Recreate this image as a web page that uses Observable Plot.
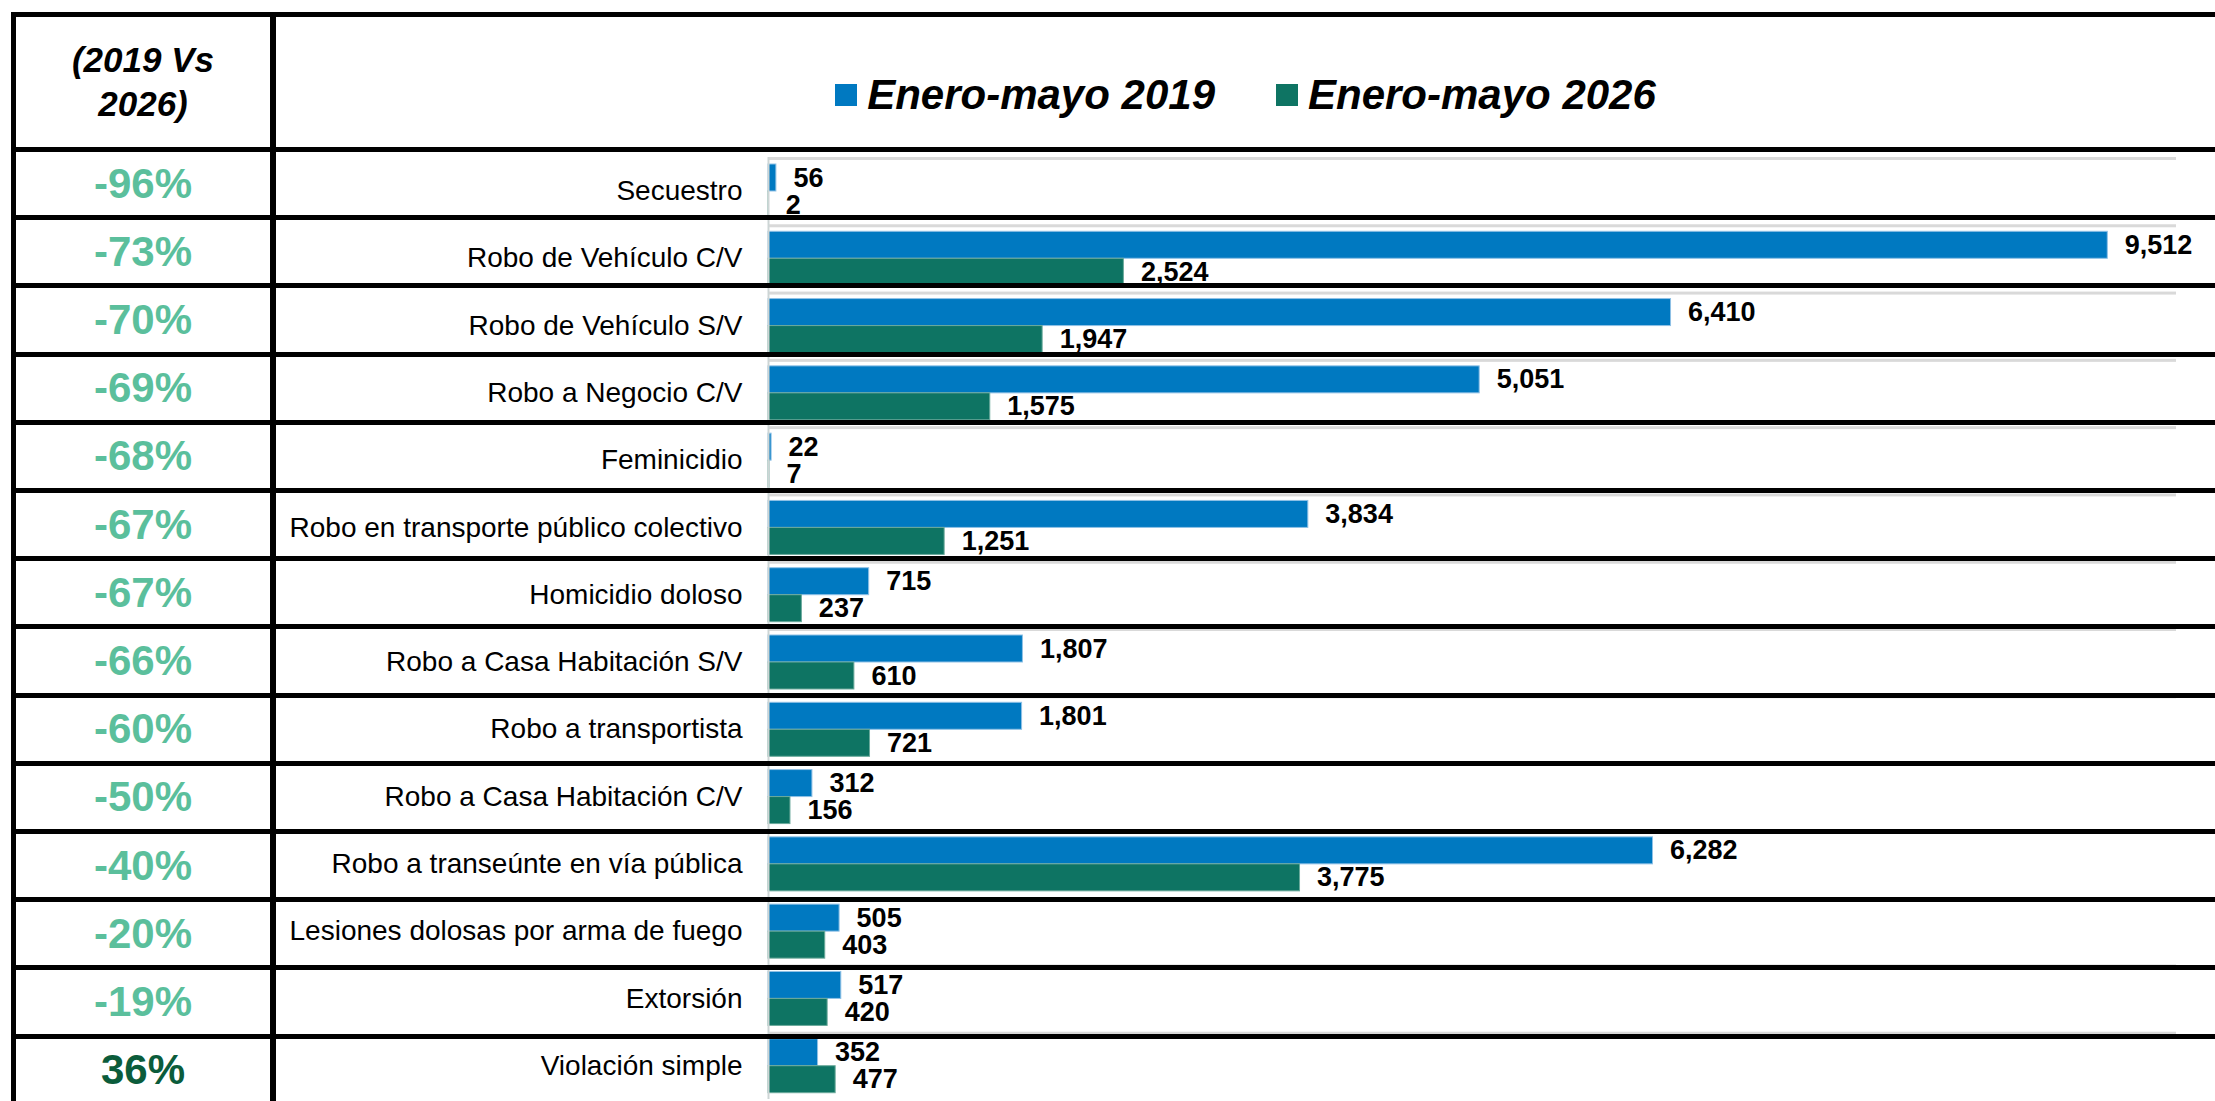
<!DOCTYPE html>
<html>
<head>
<meta charset="utf-8">
<script src="https://cdn.jsdelivr.net/npm/d3@7"></script>
<script src="https://cdn.jsdelivr.net/npm/@observablehq/plot@0.6"></script>
<style>
  html, body { margin: 0; padding: 0; background: #fff; }
  body { width: 2215px; height: 1101px; overflow: hidden; position: relative;
         font-family: "Liberation Sans", Arial, sans-serif; color: #000; }
  #chart { position: absolute; left: 0; top: 149px; z-index: 1; }
  .line { position: absolute; background: #000; z-index: 5; }
  .pct { position: absolute; left: 16px; width: 254px; text-align: center;
         font-weight: bold; font-size: 42px; z-index: 4; }
  #hdrLeft { position: absolute; left: 16px; width: 254px; top: 38px; text-align: center;
             font-weight: bold; font-style: italic; font-size: 35px; line-height: 44px; z-index: 4; }
  #legend { position: absolute; left: 276px; width: 1939px; top: 74px; height: 42px;
            display: flex; justify-content: center; align-items: center; z-index: 4; }
  .lgItem { display: flex; align-items: center; }
  .lgSw { width: 22px; height: 22px; margin-right: 10px; }
  .lgTx { font-weight: bold; font-style: italic; font-size: 42px; line-height: 42px; white-space: nowrap; }
</style>
</head>
<body>
<div id="hdrLeft">(2019 Vs<br>2026)</div>
<div id="legend"></div>
<div id="chart"></div>
<div id="table"></div>
<script>
// ---- data ----
const categories = [
  "Secuestro",
  "Robo de Vehículo C/V",
  "Robo de Vehículo S/V",
  "Robo a Negocio C/V",
  "Feminicidio",
  "Robo en transporte público colectivo",
  "Homicidio doloso",
  "Robo a Casa Habitación S/V",
  "Robo a transportista",
  "Robo a Casa Habitación C/V",
  "Robo a transeúnte en vía pública",
  "Lesiones dolosas por arma de fuego",
  "Extorsión",
  "Violación simple"
];
const values2019 = [56, 9512, 6410, 5051, 22, 3834, 715, 1807, 1801, 312, 6282, 505, 517, 352];
const values2026 = [2, 2524, 1947, 1575, 7, 1251, 237, 610, 721, 156, 3775, 403, 420, 477];
const changes = [-96, -73, -70, -69, -68, -67, -67, -66, -60, -50, -40, -20, -19, 36];
const seriesNames = ["Enero-mayo 2019", "Enero-mayo 2026"];
const seriesColors = ["#0079c1", "#0e7463"];
const xTicksDomain = [0, 10000];

// ---- legend ----
const legend = document.getElementById("legend");
seriesNames.forEach((name, i) => {
  const item = document.createElement("div");
  item.className = "lgItem";
  if (i > 0) item.style.marginLeft = "61px";
  const sw = document.createElement("div");
  sw.className = "lgSw";
  sw.style.background = seriesColors[i];
  const tx = document.createElement("div");
  tx.className = "lgTx";
  tx.textContent = name;
  item.appendChild(sw); item.appendChild(tx);
  legend.appendChild(item);
});

// ---- chart ----
const rows = categories.map((c, i) => ({category: c, v2019: values2019[i], v2026: values2026[i]}));
const H = 952, mt = 8, mb = 2;
const bw = (H - mt - mb) / categories.length;
const fmt = d3.format(",");

const plot = Plot.plot({
  width: 2215,
  height: H,
  marginLeft: 768,
  marginRight: 39,
  marginTop: mt,
  marginBottom: mb,
  style: {fontFamily: "'Liberation Sans', Arial, sans-serif", color: "#000", background: "transparent", overflow: "visible"},
  x: {domain: xTicksDomain, axis: null},
  y: {domain: categories, padding: 0, round: false, axis: null},
  marks: [
    Plot.barX(rows, {y: "category", x1: d => xTicksDomain[0], x2: d => xTicksDomain[1], fill: "#d9d9d9", insetTop: 0, insetBottom: bw - 3}),
    Plot.barX(rows, {y: "category", x: "v2019", fill: seriesColors[0], stroke: "#8fc1e6", strokeWidth: 1, insetTop: 7, insetBottom: bw - 34}),
    Plot.barX(rows, {y: "category", x: "v2026", fill: seriesColors[1], stroke: "#6aa99b", strokeWidth: 1, insetTop: 34, insetBottom: bw - 61}),
    Plot.ruleX([0], {stroke: "#cdd5d5", strokeWidth: 2}),
    Plot.axisY({tickSize: 0, tickPadding: 26, fontSize: 28, label: null}),
    Plot.text(rows, {y: "category", x: "v2019", text: d => fmt(d.v2019), dx: 17, dy: 20.5 - bw / 2,
      textAnchor: "start", fontWeight: "bold", fontSize: 27, fill: "#000"}),
    Plot.text(rows, {y: "category", x: "v2026", text: d => fmt(d.v2026), dx: 17, dy: 47.5 - bw / 2,
      textAnchor: "start", fontWeight: "bold", fontSize: 27, fill: "#000"})
  ]
});
document.getElementById("chart").appendChild(plot);

// ---- table structure (left column + borders) ----
const table = document.getElementById("table");
const rowTop = 149.5, rowH = 68.2;
function addLine(l, t, w, h) {
  const d = document.createElement("div");
  d.className = "line";
  d.style.left = l + "px"; d.style.top = t + "px";
  d.style.width = w + "px"; d.style.height = h + "px";
  table.appendChild(d);
}
addLine(11, 12, 2204, 5);          // top border
addLine(11, 12, 5, 1089);          // outer left
addLine(270, 12, 6, 1089);         // column divider
for (let i = 0; i <= categories.length; i++) {
  addLine(11, rowTop + rowH * i - 2.5, 2204, 5);
}
changes.forEach((c, i) => {
  const d = document.createElement("div");
  d.className = "pct";
  d.style.top = (rowTop + rowH * i) + "px";
  d.style.height = rowH + "px";
  d.style.lineHeight = rowH + "px";
  d.style.color = c < 0 ? "#5bbf9c" : "#0b5c3b";
  d.textContent = c + "%";
  table.appendChild(d);
});
</script>
</body>
</html>
